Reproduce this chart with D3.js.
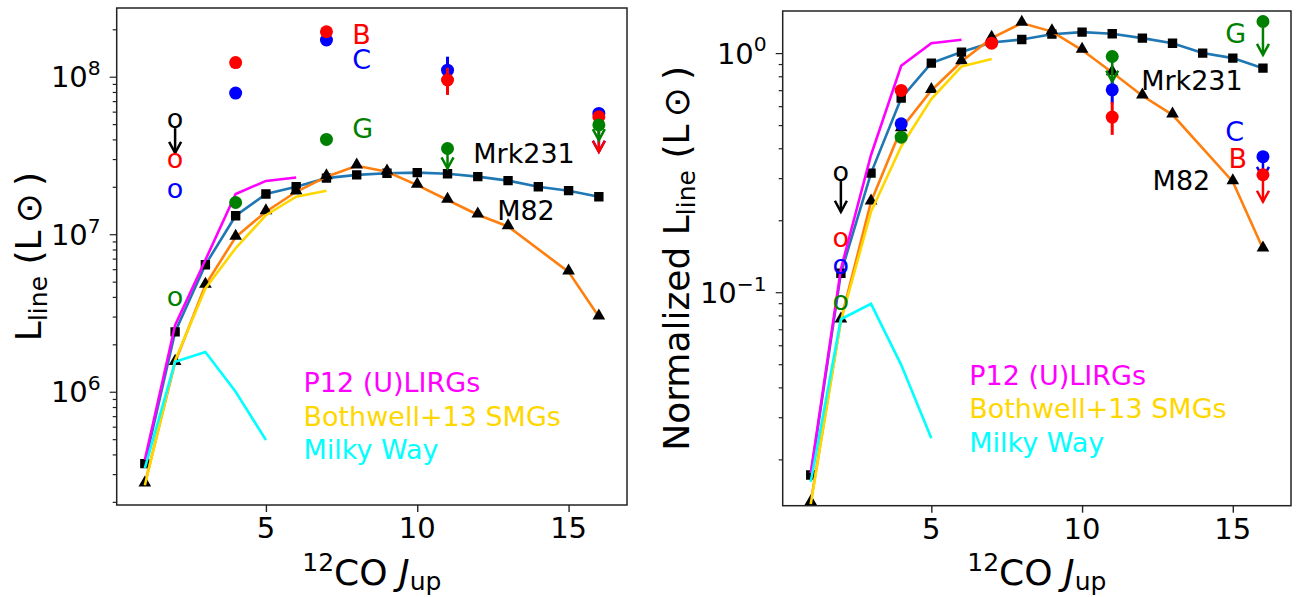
<!DOCTYPE html>
<html>
<head>
<meta charset="utf-8">
<title>CO SLED</title>
<script src="https://cdn.jsdelivr.net/npm/d3@7"></script>
<style>
  body { margin: 0; background: #fff; }
  svg text { font-family: "DejaVu Sans", sans-serif; }
</style>
</head>
<body>
<svg id="chart" width="1296" height="597"></svg>
<script>
// ---- data ----
const xTicks = [5, 10, 15];

const jMrk231 = [1, 2, 3, 4, 5, 6, 7, 8, 9, 10, 11, 12, 13, 14, 15, 16];
const mrk231Abs = [3.5e5, 2.4e6, 6.4e6, 1.31e7, 1.8e7, 2.0e7, 2.27e7, 2.38e7, 2.44e7, 2.46e7, 2.42e7, 2.32e7, 2.19e7, 2.0e7, 1.89e7, 1.73e7];
const mrk231Norm = [0.0172, 0.120, 0.315, 0.648, 0.908, 1.01, 1.107, 1.14, 1.20, 1.224, 1.205, 1.155, 1.10, 1.0, 0.953, 0.865];

const jM82 = [1, 2, 3, 4, 5, 6, 7, 8, 9, 10, 11, 12, 13, 15, 16];
const m82Abs = [2.6e5, 1.54e6, 4.75e6, 9.6e6, 1.39e7, 1.86e7, 2.32e7, 2.72e7, 2.49e7, 2.05e7, 1.65e7, 1.33e7, 1.12e7, 5.77e6, 2.99e6];
const m82Norm = [0.0132, 0.0766, 0.239, 0.483, 0.698, 0.922, 1.155, 1.335, 1.23, 1.03, 0.83, 0.663, 0.552, 0.290, 0.152];

const jP12 = [1, 2, 3, 4, 5, 6];
const p12Abs = [3.7e5, 2.65e6, 6.86e6, 1.8e7, 2.18e7, 2.29e7];
const p12Norm = [0.0175, 0.125, 0.375, 0.885, 1.10, 1.137];

const jBothwell = [1, 2, 3, 4, 5, 6, 7];
const bothwellAbs = [2.55e5, 1.58e6, 4.53e6, 8.15e6, 1.32e7, 1.73e7, 1.89e7];
const bothwellNorm = [0.0130, 0.0757, 0.217, 0.407, 0.642, 0.879, 0.944];

const jMilkyWay = [1, 2, 3, 4, 5];
const milkyWayAbs = [3.27e5, 1.55e6, 1.79e6, 1.0e6, 4.94e5];
const milkyWayNorm = [0.0161, 0.0771, 0.0894, 0.0497, 0.0245];

// CO(2-1) "o" points: [source, L, upper-limit arrow tip]
const oAbs = [["all", 5.3e7, 3.28e7], ["B", 2.96e7], ["C", 1.9e7], ["G", 3.93e6]];
const oNorm = [["all", 0.315, 0.217], ["B", 0.1655], ["C", 0.128], ["G", 0.0905]];

// source points: [J, L, error, upper-limit arrow tip]
const cAbs = [[4, 7.87e7], [7, 1.71e8], [11, 1.10e8, 2.4e7], [16, 5.85e7, 0, 3.34e7]];
const bAbs = [[4, 1.23e8], [7, 1.93e8], [11, 9.53e7, 1.87e7], [16, 5.57e7, 0, 3.33e7]];
const gAbs = [[4, 1.59e7], [7, 4.0e7], [11, 3.5e7, 0, 2.62e7], [16, 4.94e7, 0, 3.96e7]];
const cNorm = [[4, 0.506], [11, 0.702, 0.086], [16, 0.369, 0, 0.301]];
const bNorm = [[4, 0.698], [7, 1.10], [11, 0.54, 0.085], [16, 0.31, 0, 0.239]];
const gNorm = [[4, 0.445], [11, 0.968, 0, 0.76], [16, 1.356, 0, 0.984]];

// text labels: [text, J, L]
const labelsAbs = [["B", 7.85, 1.61e8], ["C", 7.85, 1.12e8], ["G", 7.85, 4.06e7], ["Mrk231", 11.85, 2.83e7], ["M82", 12.64, 1.23e7]];
const labelsNorm = [["G", 14.75, 1.107], ["C", 14.75, 0.427], ["B", 14.86, 0.330], ["Mrk231", 11.96, 0.702], ["M82", 12.34, 0.268]];

const legendNames = ["P12 (U)LIRGs", "Bothwell+13 SMGs", "Milky Way"];

// ---- styles ----
const srcColor = { all: "black", B: "red", C: "blue", G: "green" };
const txtColor = { B: "red", C: "blue", G: "green", Mrk231: "black", M82: "black" };
const legendColors = ["#ff00ff", "#ffd700", "#00ffff"];
const xDomain = [0.07, 16.93];

const svg = d3.select("#chart");

function superscript(sel, base, exp, size) {
  sel.append("tspan").text(base);
  sel.append("tspan").attr("font-size", size * 0.7).attr("dy", -size * 0.42).text(exp);
}

function drawPanel(cfg) {
  const x = d3.scaleLinear().domain(xDomain).range([cfg.x0, cfg.x1]);
  const y = d3.scaleLog().domain(cfg.yDomain).range([cfg.y1, cfg.y0]);
  const g = svg.append("g");

  g.append("clipPath").attr("id", cfg.id + "-clip")
    .append("rect").attr("x", cfg.x0).attr("y", cfg.y0)
    .attr("width", cfg.x1 - cfg.x0).attr("height", cfg.y1 - cfg.y0);
  const plot = g.append("g").attr("clip-path", `url(#${cfg.id}-clip)`);

  const line = d3.line().x(d => x(d[0])).y(d => y(d[1]));
  const pairs = (js, vs) => js.map((j, i) => [j, vs[i]]);

  // reference galaxies with markers
  plot.append("path").datum(pairs(jMrk231, cfg.mrk231))
    .attr("d", line).attr("fill", "none").attr("stroke", "#1f77b4").attr("stroke-width", 2.6);
  plot.selectAll(".sq").data(pairs(jMrk231, cfg.mrk231)).enter().append("path")
    .attr("transform", d => `translate(${x(d[0])},${y(d[1])})`)
    .attr("d", d3.symbol(d3.symbolSquare, 88)).attr("fill", "black");
  plot.append("path").datum(pairs(jM82, cfg.m82))
    .attr("d", line).attr("fill", "none").attr("stroke", "#ff7f0e").attr("stroke-width", 2.6);
  plot.selectAll(".tri").data(pairs(jM82, cfg.m82)).enter().append("path")
    .attr("transform", d => `translate(${x(d[0])},${y(d[1]) - 1})`)
    .attr("d", d3.symbol(d3.symbolTriangle, 70)).attr("fill", "black");

  // comparison SLEDs
  [[jP12, cfg.p12], [jBothwell, cfg.bothwell], [jMilkyWay, cfg.milkyWay]].forEach((s, i) => {
    plot.append("path").datum(pairs(s[0], s[1]))
      .attr("d", line).attr("fill", "none").attr("stroke", legendColors[i]).attr("stroke-width", 2.6);
  });

  // upper-limit arrow
  function arrow(px, yFrom, yTip, color) {
    g.append("line").attr("x1", px).attr("x2", px).attr("y1", yFrom).attr("y2", yTip)
      .attr("stroke", color).attr("stroke-width", 2.5);
    g.append("path").attr("d", `M${px - 6},${yTip - 11}L${px},${yTip}L${px + 6},${yTip - 11}`)
      .attr("fill", "none").attr("stroke", color).attr("stroke-width", 2.5);
  }

  // J=2 "o" points
  cfg.oPts.forEach(d => {
    const px = x(2), py = y(d[1]);
    g.append("text").attr("x", px).attr("y", py).attr("dy", "0.28em")
      .attr("text-anchor", "middle").attr("font-size", 27)
      .attr("fill", srcColor[d[0]]).text("o");
    if (d[2]) arrow(px, py + 8, y(d[2]), srcColor[d[0]]);
  });

  // source points
  cfg.src.forEach(([key, pts]) => {
    const col = srcColor[key];
    pts.forEach(d => {
      const px = x(d[0]), py = y(d[1]);
      if (d[2]) {
        g.append("line").attr("x1", px).attr("x2", px)
          .attr("y1", y(d[1] + d[2])).attr("y2", y(d[1] - d[2]))
          .attr("stroke", col).attr("stroke-width", 3);
      }
      if (d[3]) arrow(px, py, y(d[3]), col);
      g.append("circle").attr("cx", px).attr("cy", py).attr("r", 6.5).attr("fill", col);
    });
  });

  // text labels
  cfg.labels.forEach(d => {
    g.append("text").attr("x", x(d[1])).attr("y", y(d[2]))
      .attr("font-size", 27).attr("fill", txtColor[d[0]]).text(d[0]);
  });

  // legend text in axes fraction
  legendNames.forEach((name, i) => {
    g.append("text")
      .attr("x", cfg.x0 + cfg.legendFx * (cfg.x1 - cfg.x0))
      .attr("y", cfg.y1 - cfg.legendFy[i] * (cfg.y1 - cfg.y0))
      .attr("font-size", 27).attr("fill", legendColors[i]).text(name);
  });

  // axes
  const xAxis = g.append("g").attr("transform", `translate(0,${cfg.y1})`)
    .call(d3.axisBottom(x).tickValues(xTicks).tickSize(7).tickFormat(""));
  xAxis.select(".domain").remove();
  xAxis.selectAll("line").attr("stroke", "#222").attr("stroke-width", 1.4);
  xTicks.forEach(t => {
    g.append("text").attr("x", x(t)).attr("y", cfg.y1 + 33)
      .attr("text-anchor", "middle").attr("font-size", 29).text(t);
  });

  const [lo, hi] = cfg.yDomain;
  const majors = d3.range(Math.ceil(Math.log10(lo)), Math.floor(Math.log10(hi)) + 1);
  const minors = [];
  for (let e = Math.floor(Math.log10(lo)); e <= Math.ceil(Math.log10(hi)); e++) {
    for (let k = 2; k <= 9; k++) {
      const v = k * Math.pow(10, e);
      if (v >= lo && v <= hi) minors.push(v);
    }
  }
  const yMaj = g.append("g").attr("transform", `translate(${cfg.x0},0)`)
    .call(d3.axisLeft(y).tickValues(majors.map(e => Math.pow(10, e))).tickSize(7).tickFormat(""));
  const yMin = g.append("g").attr("transform", `translate(${cfg.x0},0)`)
    .call(d3.axisLeft(y).tickValues(minors).tickSize(4).tickFormat(""));
  [yMaj, yMin].forEach(a => {
    a.select(".domain").remove();
    a.selectAll("line").attr("stroke", "#222").attr("stroke-width", 1.2);
  });
  majors.forEach(e => {
    const t = g.append("text").attr("x", cfg.x0 - 16).attr("y", y(Math.pow(10, e)) + 10.5)
      .attr("text-anchor", "end").attr("font-size", 29);
    superscript(t, "10", e < 0 ? "\u2212" + (-e) : String(e), 29);
  });

  g.append("rect").attr("x", cfg.x0).attr("y", cfg.y0)
    .attr("width", cfg.x1 - cfg.x0).attr("height", cfg.y1 - cfg.y0)
    .attr("fill", "none").attr("stroke", "#222").attr("stroke-width", 1.5);

  // x label
  const xl = g.append("text").attr("x", (cfg.x0 + cfg.x1) / 2).attr("y", 585)
    .attr("text-anchor", "middle").attr("font-size", 36);
  xl.append("tspan").attr("font-size", 25).attr("dy", -14).text("12");
  xl.append("tspan").attr("dy", 14).text("CO ");
  xl.append("tspan").attr("font-style", "italic").text("J");
  xl.append("tspan").attr("font-size", 25).attr("dy", 5).text("up");

  // y label
  const yl = g.append("text")
    .attr("transform", `translate(${cfg.yLabelX},${(cfg.y0 + cfg.y1) / 2}) rotate(-90)`)
    .attr("text-anchor", "middle").attr("font-size", 36);
  yl.append("tspan").text(cfg.yPrefix + "L");
  yl.append("tspan").attr("font-size", 25).attr("dy", 6).text("line");
  yl.append("tspan").attr("dy", -6).text(" (L\u2009\u2299\u2009)");
}

drawPanel({
  id: "abs", x0: 116.7, x1: 627, y0: 8, y1: 505, yDomain: [1.91e5, 2.73e8],
  mrk231: mrk231Abs, m82: m82Abs, p12: p12Abs, bothwell: bothwellAbs, milkyWay: milkyWayAbs,
  oPts: oAbs, src: [["C", cAbs], ["B", bAbs], ["G", gAbs]], labels: labelsAbs,
  legendFx: 0.366, legendFy: [0.228, 0.158, 0.092], yLabelX: 41, yPrefix: ""
});
drawPanel({
  id: "norm", x0: 782.7, x1: 1291, y0: 11, y1: 505.7, yDomain: [0.0128, 1.50],
  mrk231: mrk231Norm, m82: m82Norm, p12: p12Norm, bothwell: bothwellNorm, milkyWay: milkyWayNorm,
  oPts: oNorm, src: [["C", cNorm], ["B", bNorm], ["G", gNorm]], labels: labelsNorm,
  legendFx: 0.367, legendFy: [0.244, 0.177, 0.109], yLabelX: 689, yPrefix: "Normalized "
});
</script>
</body>
</html>
